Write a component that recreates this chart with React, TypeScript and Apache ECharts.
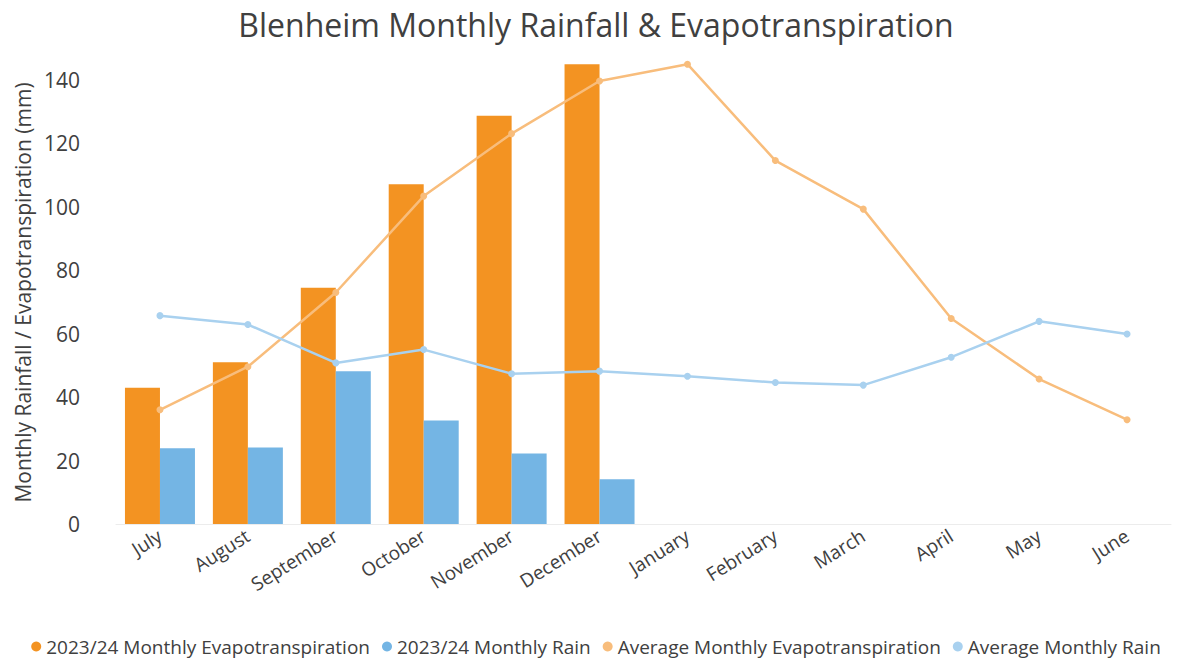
import React, { useEffect, useRef } from "react";
import * as echarts from "echarts";

const months = ["July", "August", "September", "October", "November", "December", "January", "February", "March", "April", "May", "June"];
const et2324 = [43.0, 51.0, 74.5, 107.1, 128.7, 145.0, null, null, null, null, null, null];
const rain2324 = [23.9, 24.1, 48.2, 32.6, 22.2, 14.1, null, null, null, null, null, null];
const avgEt = [36.0, 49.6, 73.0, 103.4, 123.1, 139.7, 145.0, 114.6, 99.3, 64.8, 45.7, 32.9];
const avgRain = [65.7, 62.9, 50.8, 55.0, 47.4, 48.2, 46.6, 44.6, 43.8, 52.6, 63.9, 59.9];
const seriesNames = [
  "2023/24 Monthly Evapotranspiration",
  "2023/24 Monthly Rain",
  "Average Monthly Evapotranspiration",
  "Average Monthly Rain",
];

const FONT = "'Open Sans', sans-serif";
const TXT = "#404040";

export default function App() {
  const ref = useRef<HTMLDivElement>(null);
  useEffect(() => {
    if (!ref.current) return;
    const chart = echarts.init(ref.current, null, { renderer: "svg" });
    chart.setOption({
      animation: false,
      backgroundColor: "#ffffff",
      textStyle: { fontFamily: FONT },
      title: {
        text: "Blenheim Monthly Rainfall & Evapotranspiration",
        left: "center",
        top: 3,
        textStyle: { fontFamily: FONT, fontSize: 32, fontWeight: "normal", color: TXT },
      },
      legend: {
        top: 632,
        left: "center",
        icon: "circle",
        itemWidth: 10,
        itemHeight: 10,
        itemGap: 12,
        textStyle: { fontFamily: FONT, fontSize: 19, color: TXT },
        data: seriesNames,
      },
      grid: { left: 116, right: 21, top: 61, bottom: 140, containLabel: false },
      xAxis: {
        type: "category",
        data: months,
        boundaryGap: true,
        axisLine: { show: true, lineStyle: { color: "#ececec" } },
        axisTick: { show: false },
        axisLabel: { rotate: 32, fontFamily: FONT, fontSize: 19, color: TXT, margin: 10, interval: 0 },
      },
      yAxis: {
        type: "value",
        min: 0,
        max: 146,
        interval: 20,
        name: "Monthly Rainfall / Evapotranspiration (mm)",
        nameLocation: "middle",
        nameGap: 82,
        nameTextStyle: { fontFamily: FONT, fontSize: 21, color: TXT },
        axisLine: { show: false },
        axisTick: { show: false },
        splitLine: { show: false },
        axisLabel: { fontFamily: FONT, fontSize: 21, color: TXT, margin: 36, showMaxLabel: false },
      },
      series: [
        {
          name: seriesNames[0],
          type: "bar",
          data: et2324,
          barWidth: 35,
          barGap: "0%",
          itemStyle: { color: "#F39322" },
        },
        {
          name: seriesNames[1],
          type: "bar",
          data: rain2324,
          barWidth: 35,
          barGap: "0%",
          itemStyle: { color: "#74B5E4" },
        },
        {
          name: seriesNames[2],
          type: "line",
          data: avgEt,
          symbol: "circle",
          symbolSize: 7,
          lineStyle: { color: "#F8BD7C", width: 2.5 },
          itemStyle: { color: "#F8BD7C" },
        },
        {
          name: seriesNames[3],
          type: "line",
          data: avgRain,
          symbol: "circle",
          symbolSize: 7,
          lineStyle: { color: "#A9D1EF", width: 2.5 },
          itemStyle: { color: "#A9D1EF" },
        },
      ],
    });
    return () => chart.dispose();
  }, []);
  return (
    <div
      ref={ref}
      style={{ position: "fixed", left: 0, top: 0, width: 1192, height: 664 }}
    />
  );
}
